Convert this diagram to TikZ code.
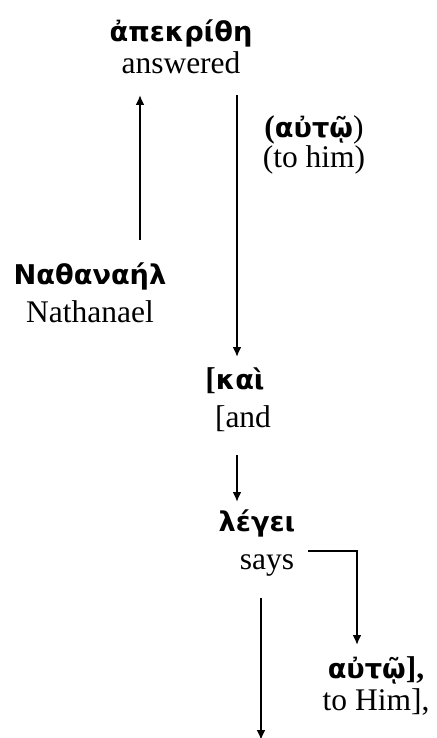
\documentclass[tikz,border=0pt]{standalone}
\usepackage{fontspec}
\setmainfont{Liberation Serif}
\newfontfamily\greekfont{DejaVu Sans}[BoldFont={DejaVu Sans Bold}]
\usetikzlibrary{arrows.meta}

\tikzset{
  word/.style={align=center, inner sep=0pt, font=\fontsize{15.75}{19}\selectfont},
  arr/.style={line width=1pt, -{Latex[length=5pt,width=4.5pt]}},
}
\newcommand{\gk}[1]{{\greekfont\bfseries\fontsize{13.6}{19}\selectfont #1}}

\begin{document}
\begin{tikzpicture}[x=0.5pt,y=-0.5pt]
    \useasboundingbox (0,0) rectangle (437,738);
    % words
    \node[word] (answered) at (181,47) {\gk{ἀπεκρίθη}\\[-3pt]answered};
    \node[word] (tohim) at (314,145) {{\bfseries (}\gk{αὐτῷ})\\[-4pt](to him)};
    \node[word] (nathanael) at (90,293) {\gk{Ναθαναήλ}\\Nathanael};
    \node[word] (and) at (235,400) {{\bfseries [}\gk{καὶ}\\\hspace{8pt}[and};
    \node[word] (says) at (257,543) {\gk{λέγει}\\\hspace{10pt}says};
    \node[word] (toHim) at (376,686) {\gk{αὐτῷ}{\bfseries ],}\\[-3pt]to Him],};
    % arrow ends
    \coordinate (upS) at (140,240);
    \coordinate (upE) at (140,95);
    \coordinate (d1S) at (237,95);
    \coordinate (d1E) at (237,357);
    \coordinate (d2S) at (237,455);
    \coordinate (d2E) at (237,502);
    \coordinate (elS) at (308,551);
    \coordinate (elE) at (357,645);
    \coordinate (d3S) at (261,598);
    \coordinate (d3E) at (261,740);
    % arrows
    \draw[arr] (upS) -- (upE);
    \draw[arr] (d1S) -- (d1E);
    \draw[arr] (d2S) -- (d2E);
    \draw[arr] (elS) -| (elE);
    \draw[arr] (d3S) -- (d3E);
\end{tikzpicture}
\end{document}
